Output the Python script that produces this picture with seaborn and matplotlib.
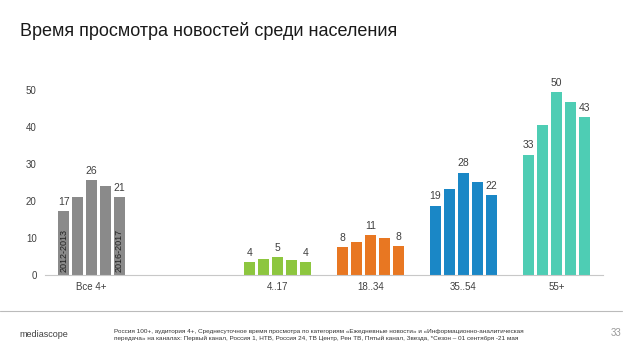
import matplotlib
matplotlib.use("Agg")
import matplotlib.pyplot as plt
import seaborn as sns
import pandas as pd

# Data
groups = ["Все 4+", "", "4..17", "18..34", "35..54", "55+"]
years = ["2012-2013", "2013-2014", "2014-2015", "2015-2016", "2016-2017"]
all_4 = [17.2, 21.2, 25.8, 24.0, 21.2]
age_4_17 = [3.6, 4.4, 4.9, 4.0, 3.6]
age_18_34 = [7.6, 8.9, 10.7, 10.1, 7.8]
age_35_54 = [18.8, 23.4, 27.7, 25.2, 21.6]
age_55 = [32.6, 40.7, 49.6, 46.9, 42.8]
group_colors = ["#8a8a8a", "#ffffff", "#8dc63f", "#e87722", "#1a87c6", "#4ecdb4"]

series = {"Все 4+": all_4, "4..17": age_4_17, "18..34": age_18_34,
          "35..54": age_35_54, "55+": age_55}
rows = []
for g, vals in series.items():
    for y, v in zip(years, vals):
        rows.append({"group": g, "year": y, "value": v})
df = pd.DataFrame(rows)

sns.set_theme(style="white")
plt.rcParams["font.family"] = ["Liberation Sans", "DejaVu Sans"]

fig = plt.figure(figsize=(6.38, 3.59), dpi=100)
ax = fig.add_axes([0.0705, 0.234, 0.8745, 0.566])

sns.barplot(data=df, x="group", y="value", hue="year", order=groups,
            hue_order=years, width=0.75, gap=0.2, legend=False,
            palette=["#888888"] * 5, saturation=1, ax=ax)

# recolor each bar by its age group
for bar in ax.patches:
    gi = int(round(bar.get_x() + bar.get_width() / 2))
    bar.set_facecolor(group_colors[gi])
    bar.set_edgecolor("none")

# value labels on first, middle and last year
for i in [0, 2, 4]:
    ax.bar_label(ax.containers[i], fmt="{:.0f}", padding=3, fontsize=7.5, color="#404040")

# year captions inside the first group's bars
for i in [0, 4]:
    b = ax.containers[i][0]
    ax.text(b.get_x() + b.get_width() / 2, 0.8, years[i], rotation=90,
            ha="center", va="bottom", fontsize=6.5, color="#222222")

ax.set_xlim(-0.5, 5.5)
ax.set_ylim(0, 55)
ax.set_yticks([0, 10, 20, 30, 40, 50])
ax.set_xlabel("")
ax.set_ylabel("")
ax.tick_params(axis="both", length=0, labelsize=7, colors="#404040")
ax.tick_params(axis="y", pad=6)
ax.tick_params(axis="x", pad=5)
for s in ["top", "right", "left"]:
    ax.spines[s].set_visible(False)
ax.spines["bottom"].set_color("#c8c8c8")
ax.spines["bottom"].set_linewidth(0.8)

fig.text(0.031, 0.915, "Время просмотра новостей среди населения",
         fontsize=13, color="#1a1a1a", va="center")

# footer
fig.add_artist(plt.Line2D([0.0, 0.975], [0.135, 0.135], color="#bbbbbb", lw=0.8))
fig.text(0.03, 0.068, "mediascope", fontsize=6.5, color="#404040", va="center")
fig.text(0.178, 0.068,
         "Россия 100+, аудитория 4+, Среднесуточное время просмотра по категориям «Ежедневные новости» и «Информационно-аналитическая\n"
         "передача» на каналах: Первый канал, Россия 1, НТВ, Россия 24, ТВ Центр, Рен ТВ, Пятый канал, Звезда, *Сезон – 01 сентября -21 мая",
         fontsize=4.6, color="#333333", va="center", linespacing=1.4)
fig.text(0.965, 0.072, "33", fontsize=7, color="#999999", ha="center", va="center")

fig.savefig("out.png", dpi=100)
